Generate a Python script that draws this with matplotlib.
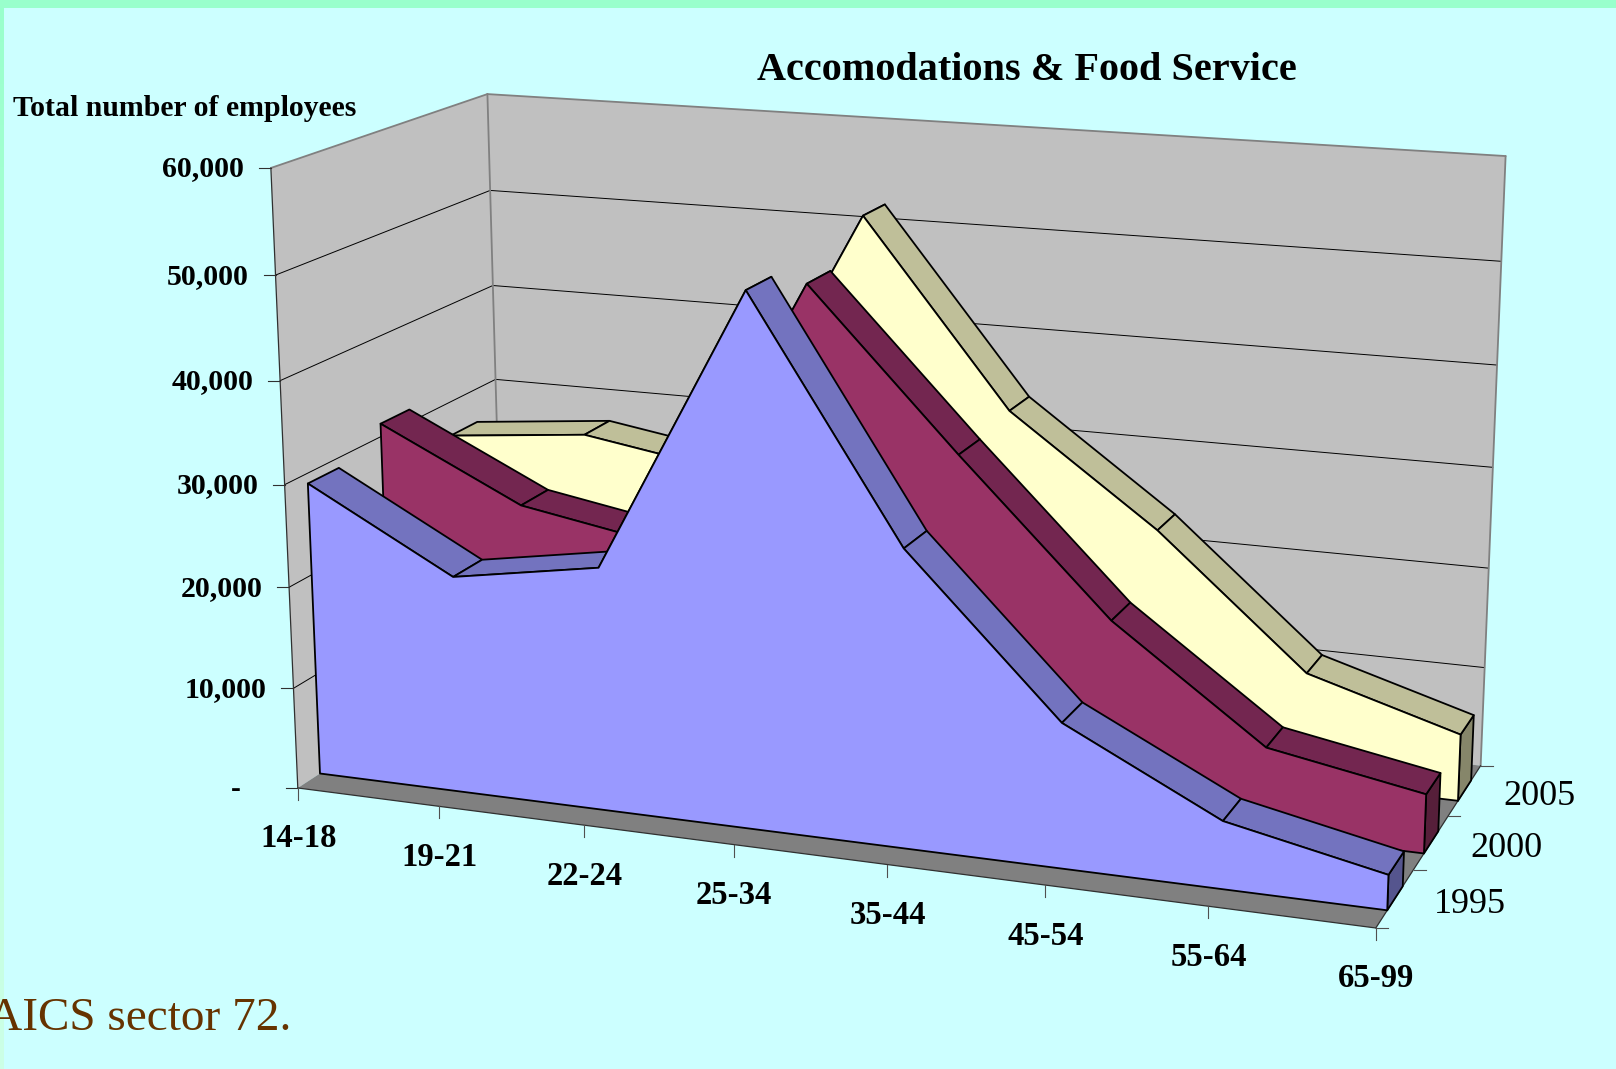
import numpy as np
import matplotlib
matplotlib.use('Agg')
import matplotlib.pyplot as plt
from matplotlib.colors import LinearSegmentedColormap
from matplotlib.patches import Polygon, Rectangle

age_groups = ['14-18', '19-21', '22-24', '25-34', '35-44', '45-54', '55-64', '65-99']
years = ['1995', '2000', '2005']
emp_1995 = [29000, 21300, 23700, 51000, 28500, 13800, 6400, 3300]
emp_2000 = [31300, 24400, 21900, 48600, 33500, 19000, 8400, 5700]
emp_2005 = [26500, 27900, 25600, 52300, 34200, 23700, 11000, 6600]
val_ticks = [0, 10000, 20000, 30000, 40000, 50000, 60000]
val_max = 60000.0

# camera of the Excel 3d box: (x, depth, value) all 0..1 -> image pixels
CAM = np.array([[946.76, 262.588, -38.4085, 297.798],
                [51.4699, -60.097, -627.127, 787.979],
                [-0.0954083, 0.113299, -0.0423823, 1.0]])


def proj(x, y, z):
    w = CAM @ np.array([x, y, z, 1.0])
    return w[0] / w[2], w[1] / w[2]


fig = plt.figure(figsize=(16.16, 10.69), dpi=100, facecolor='#CCFFFF')
ax = fig.add_axes([0, 0, 1, 1])
ax.axis('off')

serif = 'Liberation Serif'

# page border, the left strip fades towards the bottom
border = LinearSegmentedColormap.from_list('border', ['#99FFCC', '#CCFFE6'])
ax.imshow(np.linspace(0, 1, 256).reshape(-1, 1), cmap=border, extent=(0, 4, 1069, 0),
          aspect='auto', zorder=0)
ax.add_patch(Rectangle((0, 0), 1616, 8, fc='#99FFCC', ec='none'))
ax.set_xlim(0, 1616)
ax.set_ylim(1069, 0)


def poly(pts, fc, ec='black', lw=1.3, zorder=3):
    ax.add_patch(Polygon([proj(*p) for p in pts], closed=True, fc=fc, ec=ec, lw=lw,
                         joinstyle='round', zorder=zorder))


def line(a, b, color='black', lw=0.7):
    pa, pb = proj(*a), proj(*b)
    ax.plot([pa[0], pb[0]], [pa[1], pb[1]], color=color, lw=lw, solid_capstyle='round', zorder=2)


# walls and floor
poly([(0, 0, 0), (0, 1, 0), (0, 1, 1), (0, 0, 1)], '#C0C0C0', ec='none', zorder=1)
poly([(0, 1, 0), (1, 1, 0), (1, 1, 1), (0, 1, 1)], '#C0C0C0', ec='none', zorder=1)
poly([(0, 0, 0), (1, 0, 0), (1, 1, 0), (0, 1, 0)], '#808080', ec='none', zorder=1)

for v in val_ticks[1:-1]:
    z = v / val_max
    line((0, 0, z), (0, 1, z))
    line((0, 1, z), (1, 1, z))
line((0, 0, 1), (0, 1, 1), color='#808080', lw=1.3)
line((0, 1, 1), (1, 1, 1), color='#808080', lw=1.3)
line((0, 1, 0), (0, 1, 1), color='#808080', lw=1.3)
line((1, 1, 0), (1, 1, 1), color='#808080', lw=1.3)
line((0, 0, 0), (0, 0, 1), color='#303030', lw=0.9)
line((0, 0, 0), (1, 0, 0), color='#303030', lw=0.9)
line((1, 0, 0), (1, 1, 0), color='#303030', lw=0.9)

# the three slabs, back one first
n = len(age_groups)
slabs = [
    (emp_2005, 0.763, 0.899, '#FFFFCC', '#BFBF99', '#86866A'),
    (emp_2000, 0.430, 0.567, '#993366', '#732650', '#561F3A'),
    (emp_1995, 0.098, 0.235, '#9999FF', '#7373BF', '#55558E'),
]
for vals, y0, y1, front, top, end in slabs:
    xs = [i / (n - 1) for i in range(n)]
    zs = [v / val_max for v in vals]
    poly([(1, y0, 0), (1, y1, 0), (1, y1, zs[-1]), (1, y0, zs[-1])], end)
    for i in range(n - 1):
        poly([(xs[i], y0, zs[i]), (xs[i + 1], y0, zs[i + 1]),
              (xs[i + 1], y1, zs[i + 1]), (xs[i], y1, zs[i])], top)
    outline = [(0, y0, 0)] + [(x, y0, z) for x, z in zip(xs, zs)] + [(1, y0, 0)]
    poly(outline, front)

# ticks and labels
tick = 12
for v in val_ticks:
    px, py = proj(0, 0, v / val_max)
    ax.plot([px - tick, px], [py, py], color='#303030', lw=0.8, zorder=2)
    if v == 0:
        ax.text(px - 57, py + 2, '-', family=serif, weight='bold', fontsize=21, ha='right', va='center')
    else:
        ax.text(px - 26.5, py + 1, f'{v:,}', family=serif, weight='bold', fontsize=21.5, ha='right', va='center')

for i, lab in enumerate(age_groups):
    px, py = proj(i / (n - 1), 0, 0)
    ax.plot([px, px], [py, py + tick], color='#505050', lw=0.8, zorder=2)
    ax.text(px + 0.5, py + 51, lab, family=serif, weight='bold', fontsize=23.5, ha='center', va='center')

for k in range(len(years) + 1):
    px, py = proj(1, k / len(years), 0)
    ax.plot([px, px + tick], [py, py], color='#505050', lw=0.8, zorder=2)
for k, lab in enumerate(years):
    px, py = proj(1, (k + 0.5) / len(years), 0)
    ax.text(px + 75, py + 6, lab, family=serif, fontsize=26, ha='center', va='center')

ax.text(1026.5, 71, 'Accomodations & Food Service', family=serif, weight='bold', fontsize=29,
        ha='center', va='center')
ax.text(13, 109, 'Total number of employees', family=serif, weight='bold', fontsize=21.4,
        ha='left', va='center')
ax.text(291, 1030, 'AICS sector 72.', family=serif, color='#663300', fontsize=34,
        ha='right', va='baseline')

fig.savefig('out.png', dpi=100, facecolor=fig.get_facecolor())
